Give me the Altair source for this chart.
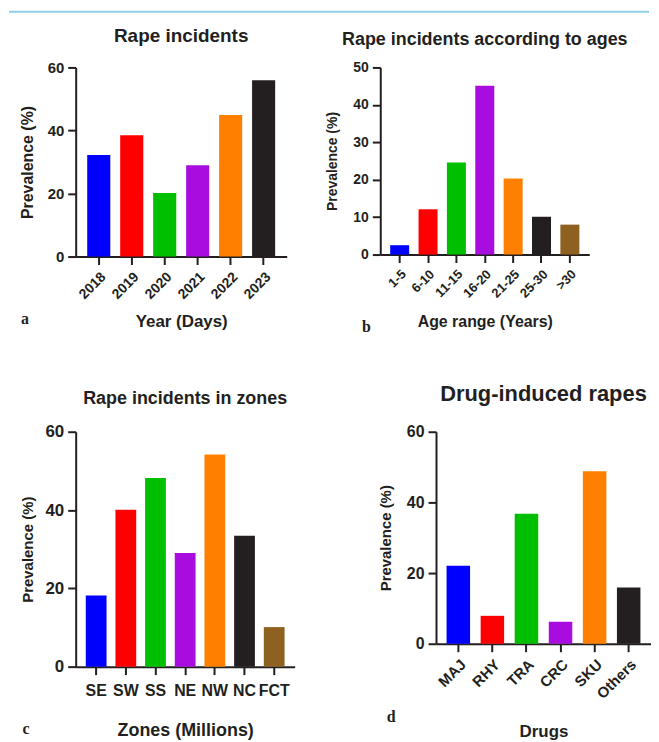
import altair as alt
import pandas as pd

FONT = "Liberation Sans, Arial, Helvetica, sans-serif"
SERIF = "Liberation Serif, Times New Roman, serif"
INK = "#231F20"

# ---- data ----
years = ["2018", "2019", "2020", "2021", "2022", "2023"]
year_vals = [32.2, 38.5, 20.2, 29.0, 44.9, 55.9]

ages = ["1-5", "6-10", "11-15", "16-20", "21-25", "25-30", ">30"]
age_vals = [2.5, 12.1, 24.6, 45.1, 20.3, 10.1, 8.0]

zones = ["SE", "SW", "SS", "NE", "NW", "NC", "FCT"]
zone_vals = [18.2, 40.1, 48.2, 29.0, 54.2, 33.4, 10.1]

drugs = ["MAJ", "RHY", "TRA", "CRC", "SKU", "Others"]
drug_vals = [22.1, 7.9, 36.8, 6.2, 48.8, 15.9]

colors6 = ["#0000FF", "#FF0000", "#00BF00", "#A80CDE", "#FF8000", "#231F20"]
colors7 = colors6 + ["#8E6121"]

titles = ["Rape incidents", "Rape incidents according to ages",
          "Rape incidents in zones", "Drug-induced rapes"]
xtitles = ["Year (Days)", "Age range (Years)", "Zones (Millions)", "Drugs"]
ytitle = "Prevalence (%)"
letters = ["a", "b", "c", "d"]


def panel(cats, vals, colors, title, xtitle, letter, ymax, ystep, w, h, pi, po,
          tsize, toff, xangle, xl, xt, xty, yl, yt, ytx, lpad, lx, ly):
    df = pd.DataFrame({"cat": cats, "val": vals, "col": colors[:len(cats)]})
    bars = alt.Chart(df).mark_bar().encode(
        x=alt.X("cat:N", sort=cats,
                scale=alt.Scale(paddingInner=pi, paddingOuter=po),
                axis=alt.Axis(title=xtitle, labelAngle=xangle, labelFontSize=xl,
                              titleFontSize=xt, titleX=w / 2, titleY=xty,
                              titleBaseline="alphabetic", titleAlign="center",
                              labelPadding=lpad)),
        y=alt.Y("val:Q", scale=alt.Scale(domain=[0, ymax], nice=False),
                axis=alt.Axis(title=ytitle, values=list(range(0, ymax + 1, ystep)),
                              labelFontSize=yl, titleFontSize=yt, titleX=ytx,
                              titleY=h / 2, titleBaseline="middle", titleAlign="center",
                              labelPadding=4)),
        color=alt.Color("col:N", scale=None, legend=None),
    )
    lab = alt.Chart(pd.DataFrame({"t": [letter]})).mark_text(
        font=SERIF, fontWeight="bold", fontSize=16, color=INK
    ).encode(text="t:N", x=alt.value(lx), y=alt.value(ly))
    return alt.layer(bars, lab).properties(
        width=w, height=h,
        title=alt.TitleParams(title, fontSize=tsize, font=FONT, fontWeight="bold",
                              color=INK, anchor="middle", frame="group", offset=toff),
    )


pa = panel(years, year_vals, colors6, titles[0], xtitles[0], letters[0], 60, 20, 212, 190,
           0.3, 0.35, 19, 15, -45, 14, 17, 70, 15, 16, -48, 5, -51, 253)
pb = panel(ages, age_vals, colors7, titles[1], xtitles[1], letters[1], 50, 10, 210, 188,
           0.33, 0.35, 18, 12, -45, 13, 16, 72, 14, 14, -48, 5, -14, 261)
pc = panel(zones, zone_vals, colors7, titles[2], xtitles[2], letters[2], 60, 20, 220, 236,
           0.3, 0.34, 18, 15, 0, 16, 18, 69, 17, 15, -48, 8, -50, 299)
pd_ = panel(drugs, drug_vals, colors6, titles[3], xtitles[3], letters[3], 60, 20, 216, 213,
            0.31, 0.31, 22, 18, -45, 15, 17, 93, 16, 15, -51, 5, -45, 287)

top = alt.Chart(pd.DataFrame({"v": [0]})).mark_rule(color="#8FCFE6", strokeWidth=2).encode(
    x=alt.value(-67), x2=alt.value(576), y=alt.value(0)
).properties(width=1, height=1)

row1 = alt.hconcat(pa, pb, spacing=39)
row2 = alt.hconcat(pc, pd_, spacing=84)
body = alt.vconcat(row1, row2, spacing=48)

chart = alt.vconcat(top, body, spacing=14).properties(
    padding={"left": 0, "top": 1, "right": 0, "bottom": 0}
).configure_view(stroke=None).configure_axis(
    domainColor=INK, domainWidth=2, tickColor=INK, tickWidth=2, tickSize=8,
    labelFont=FONT, labelFontWeight="bold", labelColor=INK,
    titleFont=FONT, titleFontWeight="bold", titleColor=INK, grid=False,
).configure_concat(spacing=20)

chart.save("out.html", embed_options={"renderer": "svg", "actions": False})
